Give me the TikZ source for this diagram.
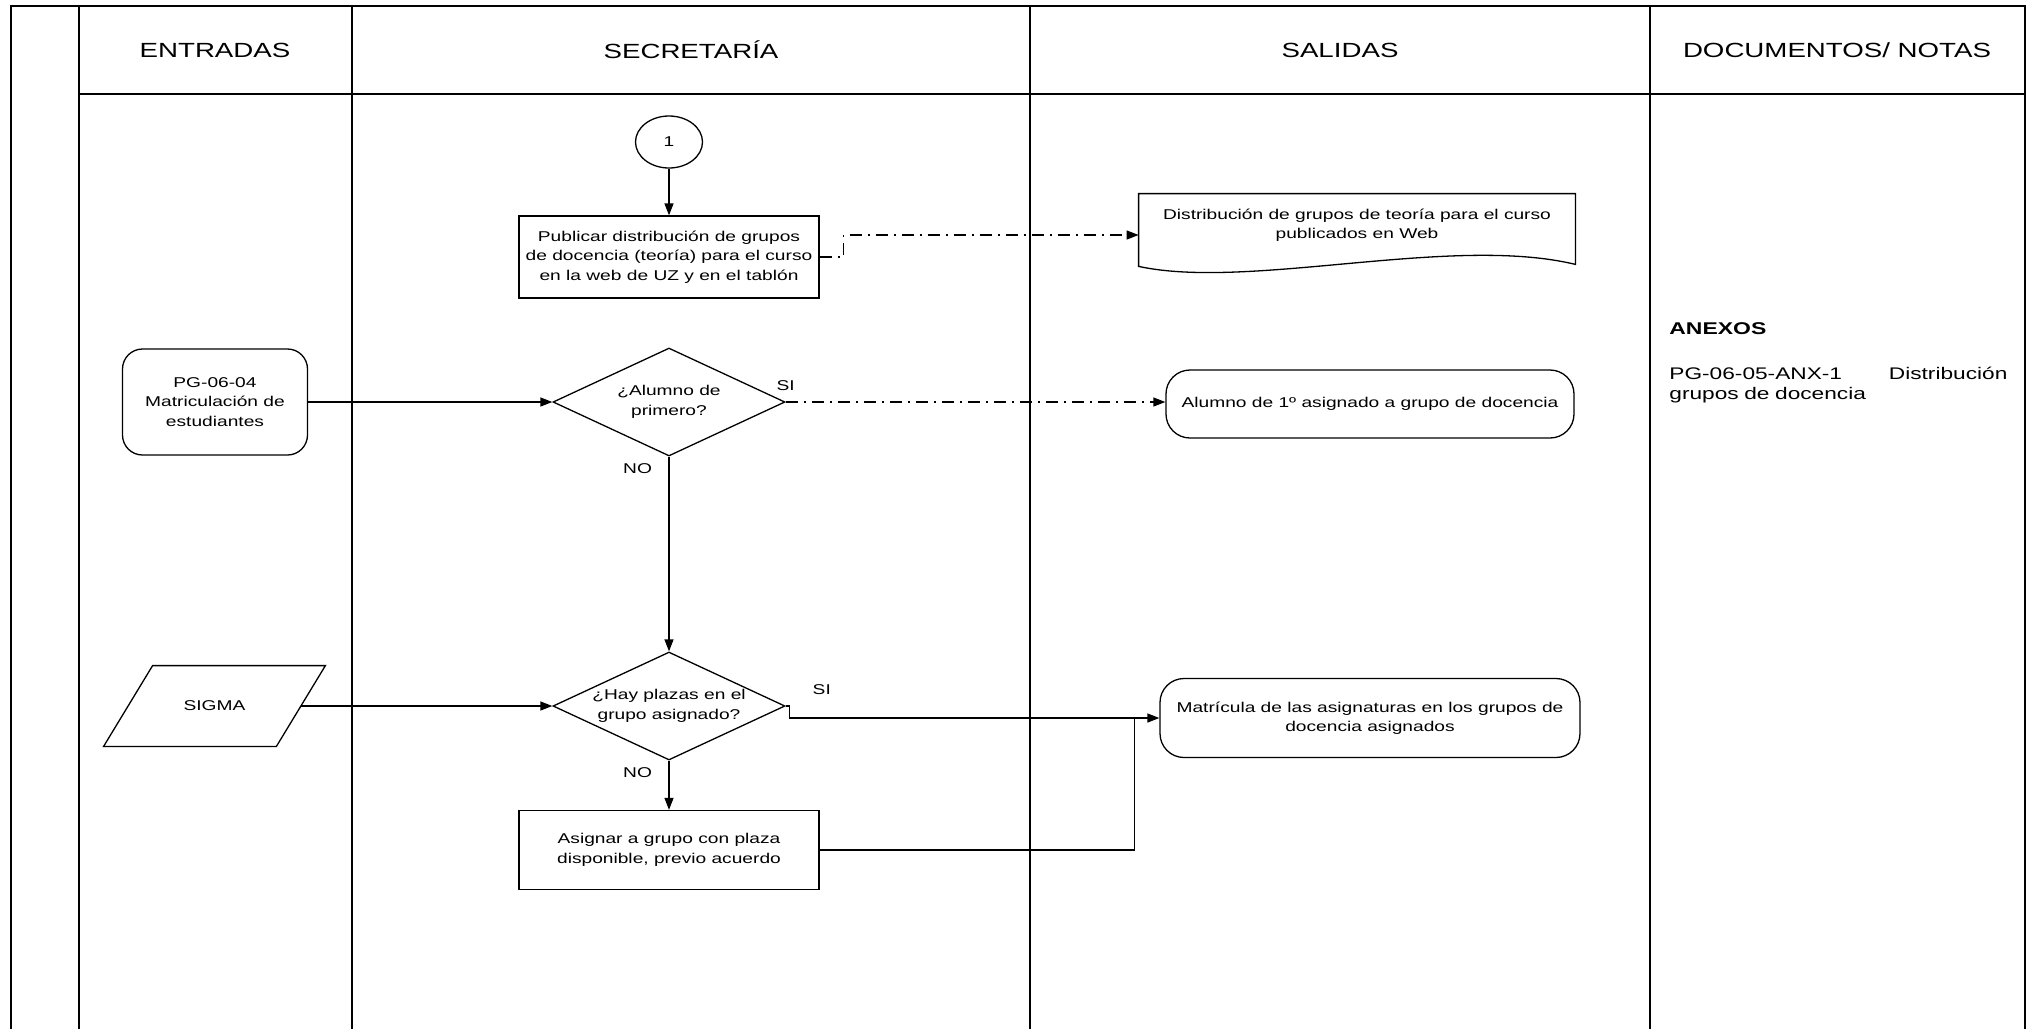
\documentclass[tikz,border=0pt]{standalone}
\usepackage{fontspec}
\setmainfont{Liberation Sans}[FakeStretch=1.35]
\usepackage{tikz}
\usetikzlibrary{arrows.meta, positioning, calc, shapes.geometric}

\newcommand{\flowfont}{\fontsize{7.1}{9.7}\selectfont}
\tikzset{
	lane/.style={line width=1pt},
	outline/.style={line width=0.65pt},
	proc/.style={draw, outline, minimum width=150pt, minimum height=41pt, inner xsep=2pt, align=center, font=\flowfont},
	term/.style={proc, rounded corners=12pt},
	decision/.style={draw, outline, diamond, shape aspect=2.15, inner sep=0pt, minimum width=116pt, minimum height=54pt, align=center, font=\flowfont},
	flow/.style={outline, -{Triangle[length=6pt,width=4.5pt]}},
	dashdot/.style={flow, dash pattern=on 6pt off 3pt on 1pt off 3pt},
	yesno/.style={font=\flowfont},
	head/.style={font=\fontsize{10.25}{12}\selectfont},
}

\begin{document}
\begin{tikzpicture}[x=0.5pt, y=-0.5pt]
	\useasboundingbox (0,0) rectangle (2029,1029);
	% swimlanes: the frame is left open at the bottom, the page cuts it
	\draw[lane] (11,1029) -- (11,6) -- (2025,6) -- (2025,1029);
	\foreach \x in {79,352,1030,1650}
		\draw[lane] (\x,6) -- (\x,1029);
	\draw[lane] (79,94) -- (2025,94);
	\node[head] (hEnt) at (215,50) {ENTRADAS};
	\node[head] (hSec) at (691,50) {SECRETARÍA};
	\node[head] (hSal) at (1340,50) {SALIDAS};
	\node[head] (hDoc) at (1837,50) {DOCUMENTOS/ NOTAS};

	% secretaria column
	\node[draw, outline, ellipse, minimum width=33.5pt, minimum height=26pt, font=\flowfont] (c1) at (669,142) {1};
	\node[proc] (pub) at (669,257) {Publicar distribución de grupos\\de docencia (teoría) para el curso\\en la web de UZ y en el tablón};
	\node[decision] (d1) at (669,402) {¿Alumno de\\primero?};
	\node[decision] (d2) at (669,706) {¿Hay plazas en el\\grupo asignado?};
	\node[proc, minimum height=39.5pt] (asig) at (669,850) {Asignar a grupo con plaza\\disponible, previo acuerdo};

	% entradas
	\node[term, minimum width=92.5pt, minimum height=53pt, rounded corners=10pt] (pg) at (215,402) {PG-06-04\\Matriculación de\\estudiantes};
	% input slab drawn as a slanted box round a plain node
	\node[minimum width=86pt, minimum height=40pt, inner sep=0pt, font=\flowfont] (sigma) at (214.5,706) {SIGMA};
	\draw[outline] ([xshift=12.25pt]sigma.north west) -- ([xshift=12.25pt]sigma.north east)
		-- ([xshift=-12.25pt]sigma.south east) -- ([xshift=-12.25pt]sigma.south west) -- cycle;

	% salidas; the document symbol gets its wavy foot by hand
	\node[minimum width=218pt, minimum height=36pt, inner sep=0pt] (doc) at (1357,230) {};
	\draw[outline] (doc.north west) -- (doc.north east) -- ([yshift=1pt]doc.south east)
		.. controls +(-62pt,15pt) and +(55.5pt,-12pt) .. (doc.south west) -- cycle;
	\node[align=center, font=\flowfont, below=4pt of doc.north] (docTxt) {Distribución de grupos de teoría para el curso\\publicados en Web};
	\node[term, minimum width=204pt, minimum height=34pt] (alum) at (1370,404) {Alumno de 1º asignado a grupo de docencia};
	\node[term, minimum width=210pt, minimum height=39.5pt] (mat) at (1370,718) {Matrícula de las asignaturas en los grupos de\\docencia asignados};

	% documentos / notas
	\node[anchor=west, inner sep=0pt, font=\bfseries\fontsize{8.5}{10}\selectfont] (anx) at (1669,329) {ANEXOS};
	\node[anchor=north west, inner sep=0pt, text width=169pt, align=left, font=\fontsize{8.4}{10}\selectfont] (anxTxt) at (1669,367)
		{PG-06-05-ANX-1\hfill Distribución\\grupos de docencia};

	% connectors
	\draw[flow] (c1) -- (pub);
	\draw[dashdot] (pub.east) -- ++(12pt,0) |- ([yshift=-2.5pt]doc.west);
	\draw[flow] (pg) -- (d1);
	\draw[dashdot] (d1.east) -- (d1.east -| alum.west);
	\draw[flow] (d1) -- (d2);
	\node[yesno, above=2pt of d1.east] (si1) {SI};
	\node[yesno, below left=0pt and 5pt of d1.south] (no1) {NO};
	\draw[flow] (sigma.east) -- (d2.west);
	\draw[flow] (d2.east) -- ++(2pt,0) |- (mat.west);
	\node[yesno, above right=2pt and 10pt of d2.east] (si2) {SI};
	\draw[flow] (d2) -- (asig);
	\node[yesno, below left=0pt and 5pt of d2.south] (no2) {NO};
	\draw[outline] (asig.east) -| ([xshift=-12.5pt]mat.west);
\end{tikzpicture}
\end{document}
